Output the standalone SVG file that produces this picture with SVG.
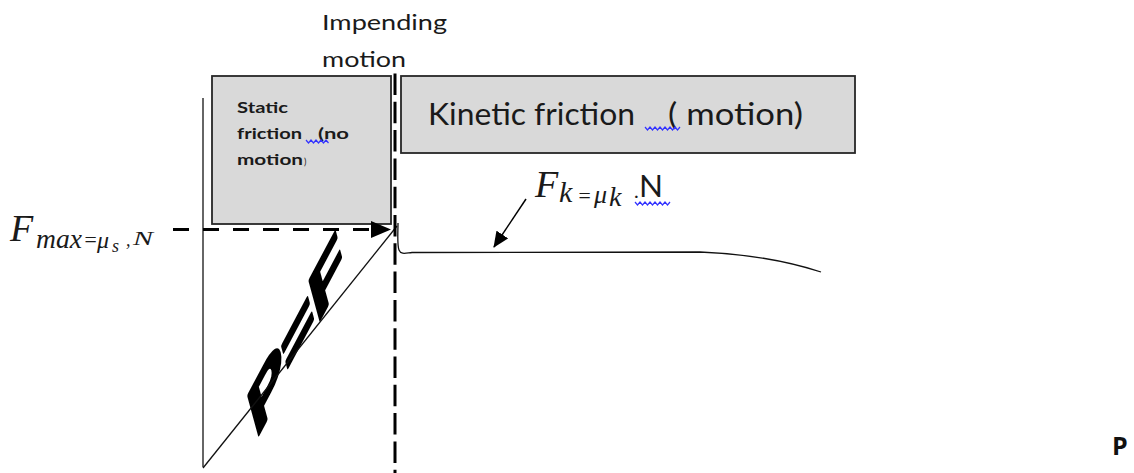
<svg xmlns="http://www.w3.org/2000/svg" width="1134" height="473" viewBox="0 0 1134 473">
<style>
.box{fill:#d9d9d9;stroke:#262626;stroke-width:1.8}
.sans{font-family:Lato,"Liberation Sans",sans-serif;fill:#1a1a1a}
.math{font-family:"Liberation Serif","DejaVu Serif",serif;font-style:italic;fill:#1a1a1a}
.dash{fill:none;stroke:#000;stroke-width:3}
.thin{fill:none;stroke:#111;stroke-width:1.3}
.squig{fill:none;stroke:#3333ff;stroke-width:1.2}
</style>
<defs>
<marker id="tri" markerWidth="16" markerHeight="14" refX="15" refY="7" orient="auto" markerUnits="userSpaceOnUse">
<path d="M0,0 L16,7 L0,14 Z" fill="#000"/>
</marker>
</defs>
<rect width="1134" height="473" fill="#fff"/>

<g id="impending-label">
<text class="sans" x="322" y="30" font-size="22" textLength="125" lengthAdjust="spacingAndGlyphs">Impending</text>
<text class="sans" x="322" y="67" font-size="22" textLength="84" lengthAdjust="spacingAndGlyphs">motion</text>
</g>

<g id="static-box">
<rect class="box" x="212" y="76" width="179" height="148"/>
<text class="sans" font-weight="bold" x="237" y="113" font-size="15" textLength="51" lengthAdjust="spacingAndGlyphs">Static</text>
<text class="sans" font-weight="bold" x="237" y="139" font-size="15" textLength="65" lengthAdjust="spacingAndGlyphs">friction</text>
<text class="sans" font-weight="bold" x="318" y="139" font-size="15" textLength="31" lengthAdjust="spacingAndGlyphs">(no</text>
<text class="sans" font-weight="bold" x="237" y="165" font-size="15" textLength="66" lengthAdjust="spacingAndGlyphs">motion</text>
<text class="sans" x="304" y="165" font-size="9">)</text>
<path class="squig" d="M306,140 l2.5,3 l2.5,-3 l2.5,3 l2.5,-3 l2.5,3 l2.5,-3 l2.5,3 l2.5,-3 l2.5,3"/>
</g>

<g id="kinetic-box">
<rect class="box" x="401" y="76" width="454" height="77"/>
<text class="sans" x="428" y="125" font-size="30" textLength="207" lengthAdjust="spacingAndGlyphs">Kinetic friction</text>
<text class="sans" x="668" y="125" font-size="30" textLength="135" lengthAdjust="spacingAndGlyphs">( motion)</text>
<path class="squig" d="M645,127 l2.5,3 l2.5,-3 l2.5,3 l2.5,-3 l2.5,3 l2.5,-3 l2.5,3 l2.5,-3 l2.5,3 l2.5,-3 l2.5,3 l2.5,-3 l2.5,3 l2.5,-3"/>
</g>

<g id="fmax-label">
<text class="math" x="10" y="241" font-size="38">F</text>
<text class="math" x="36" y="248" font-size="28" textLength="46" lengthAdjust="spacingAndGlyphs">max</text>
<text class="math" x="83" y="247" font-size="22" font-style="normal">=</text>
<text class="math" x="97" y="248" font-size="24">μ</text>
<text class="math" x="112" y="252" font-size="18">s</text>
<text class="math" x="126" y="246" font-size="18">,</text>
<text class="math" x="133" y="245" font-size="19" textLength="20" lengthAdjust="spacingAndGlyphs">N</text>
</g>

<g id="fk-label">
<text class="math" x="535" y="197" font-size="38">F</text>
<text class="math" x="559" y="202" font-size="30">k</text>
<text class="math" x="577" y="203" font-size="22" font-style="normal">=</text>
<text class="math" x="594" y="203" font-size="26">μ</text>
<text class="math" x="609" y="206" font-size="28">k</text>
<text class="sans" x="634" y="198" font-size="20">.</text>
<text class="sans" x="639" y="197" font-size="30" textLength="24" lengthAdjust="spacingAndGlyphs">N</text>
<path class="squig" d="M635,202 l2.5,3 l2.5,-3 l2.5,3 l2.5,-3 l2.5,3 l2.5,-3 l2.5,3 l2.5,-3 l2.5,3 l2.5,-3 l2.5,3 l2.5,-3 l2.5,3 l2.5,-3"/>
</g>

<g id="pf-label">
<text font-family="'Liberation Sans',Arial,sans-serif" font-weight="bold" font-size="52" fill="#000" stroke="#000" stroke-width="2.5" stroke-linejoin="round" transform="matrix(0.94,-1.77,0.3,1.1,256,440)">P=F</text>
</g>

<g id="p-axis-label">
<text font-family="'Open Sans','Liberation Sans',sans-serif" font-weight="bold" font-size="25" x="1112" y="455" fill="#111">P</text>
</g>

<g id="connectors">
<line x1="203" y1="98" x2="203" y2="467" stroke="#333" stroke-width="1.5"/>
<line class="thin" x1="203" y1="468" x2="397" y2="226"/>
<line class="dash" x1="395" y1="73.5" x2="395" y2="473" stroke-dasharray="21.5 6.8"/>
<line class="dash" x1="173" y1="229.5" x2="378" y2="229.5" stroke-dasharray="16 14"/>
<path d="M371,221 L391,229.5 L371,238 Z" fill="#000"/>
<path class="thin" d="M398,223 C398,232 397,245 399,250 C401,255 406,253 412,252.5 L700,252 C750,254 790,262 821,272"/>
<line stroke="#000" stroke-width="1.5" x1="526" y1="199" x2="494" y2="247" marker-end="url(#tri)"/>
</g>
</svg>
